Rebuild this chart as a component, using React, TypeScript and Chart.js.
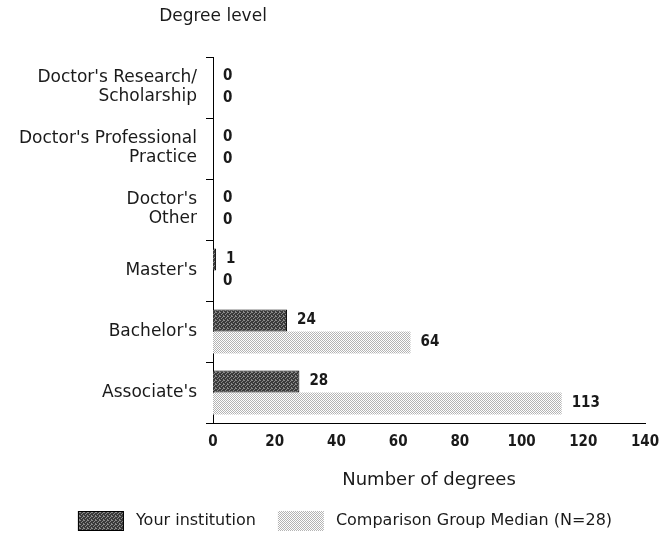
import React, { useEffect, useRef } from "react";
import { Chart, registerables } from "chart.js";

Chart.register(...registerables);

const categories: (string | string[])[] = [
  ["Doctor's Research/", "Scholarship"],
  ["Doctor's Professional", "Practice"],
  ["Doctor's", "Other"],
  "Master's",
  "Bachelor's",
  "Associate's",
];
const yourInstitution = [0, 0, 0, 1, 24, 28];
const comparisonMedian = [0, 0, 0, 0, 64, 113];
const seriesNames = ["Your institution", "Comparison Group Median (N=28)"];
const xMin = 0;
const xMax = 140;
const xStep = 20;
const yAxisTitle = "Degree level";
const xAxisTitle = "Number of degrees";

const FONT = "'DejaVu Sans', Verdana, sans-serif";
const NUMFONT = "'DejaVu Sans Condensed', 'DejaVu Sans', sans-serif";
const TEXT = "#1a1a1a";

function makePattern(kind: "dark" | "light"): CanvasPattern | string {
  const c = document.createElement("canvas");
  c.width = 4;
  c.height = 4;
  const g = c.getContext("2d");
  if (!g) return kind === "dark" ? "#555" : "#d6d6d6";
  if (kind === "dark") {
    g.fillStyle = "#3a3a3a";
    g.fillRect(0, 0, 4, 4);
    g.fillStyle = "#8a8a8a";
    const pts = [[0, 0], [2, 1], [1, 2], [3, 3], [3, 0]];
    pts.forEach(([x, y]) => g.fillRect(x, y, 1, 1));
  } else {
    g.fillStyle = "#ffffff";
    g.fillRect(0, 0, 4, 4);
    g.fillStyle = "#b4b4b4";
    const pts = [[0, 0], [2, 0], [1, 1], [3, 1], [0, 2], [2, 2], [3, 3], [1, 3]];
    pts.forEach(([x, y]) => g.fillRect(x, y, 1, 1));
  }
  const p = g.createPattern(c, "repeat");
  return p || (kind === "dark" ? "#555" : "#d6d6d6");
}

export default function App() {
  const ref = useRef<HTMLCanvasElement | null>(null);

  useEffect(() => {
    document.body.style.margin = "0";
    const canvas = ref.current;
    if (!canvas) return;
    const darkFill = makePattern("dark");
    const lightFill = makePattern("light");

    const valueLabels = {
      id: "valueLabels",
      afterDatasetsDraw(chart: any) {
        const ctx = chart.ctx;
        ctx.save();
        ctx.font = `bold 15px ${NUMFONT}`;
        ctx.fillStyle = TEXT;
        ctx.textAlign = "left";
        ctx.textBaseline = "middle";
        chart.data.datasets.forEach((ds: any, di: number) => {
          const meta = chart.getDatasetMeta(di);
          meta.data.forEach((el: any, i: number) => {
            ctx.fillText(String(ds.data[i]), el.x + 10, el.y);
          });
        });
        ctx.restore();
      },
    };

    const chrome = {
      id: "chrome",
      afterDraw(chart: any) {
        const ctx = chart.ctx;
        const area = chart.chartArea;
        ctx.save();
        ctx.fillStyle = TEXT;
        ctx.textBaseline = "middle";
        ctx.textAlign = "center";
        ctx.font = `17px ${FONT}`;
        ctx.fillText(yAxisTitle, area.left, 17);
        ctx.font = `18px ${FONT}`;
        ctx.fillText(xAxisTitle, (area.left + area.right) / 2, 480);

        // legend
        ctx.font = `16px ${FONT}`;
        const sw = 46;
        const sh = 20;
        const gapText = 12;
        const gapItem = 22;
        const fills = [darkFill, lightFill];
        const widths = seriesNames.map((n) => sw + gapText + ctx.measureText(n).width);
        const total = widths[0] + gapItem + widths[1];
        let x = 345 - total / 2;
        const cy = 521;
        seriesNames.forEach((n, i) => {
          ctx.fillStyle = fills[i] as any;
          ctx.fillRect(x, cy - sh / 2, sw, sh);
          if (i === 0) {
            ctx.strokeStyle = "#000";
            ctx.lineWidth = 1;
            ctx.strokeRect(x + 0.5, cy - sh / 2 + 0.5, sw - 1, sh - 1);
          }
          ctx.fillStyle = TEXT;
          ctx.textAlign = "left";
          ctx.fillText(n, x + sw + gapText, cy);
          x += widths[i] + gapItem;
        });
        ctx.restore();
      },
    };

    const chart = new Chart(canvas, {
      type: "bar",
      data: {
        labels: categories,
        datasets: [
          {
            label: seriesNames[0],
            data: yourInstitution,
            backgroundColor: darkFill as any,
            borderColor: "#000",
            borderWidth: 1,
            categoryPercentage: 0.72,
            barPercentage: 1,
          },
          {
            label: seriesNames[1],
            data: comparisonMedian,
            backgroundColor: lightFill as any,
            borderWidth: 0,
            categoryPercentage: 0.72,
            barPercentage: 1,
          },
        ],
      },
      options: {
        indexAxis: "y",
        responsive: false,
        animation: false,
        devicePixelRatio: 1,
        layout: { padding: { top: 57, left: 0, right: 26, bottom: 0 } },
        plugins: {
          legend: { display: false },
          tooltip: { enabled: false },
          title: { display: false },
        },
        scales: {
          x: {
            type: "linear",
            min: xMin,
            max: xMax,
            ticks: {
              stepSize: xStep,
              color: TEXT,
              font: { family: NUMFONT, size: 15, weight: "bold" },
              padding: 10,
            },
            grid: { display: false, drawTicks: false },
            border: { display: true, color: "#000", width: 1 },
            afterFit: (s: any) => {
              s.height = 113;
            },
          },
          y: {
            type: "category",
            ticks: {
              color: TEXT,
              font: { family: FONT, size: 17, lineHeight: 1.12 },
              padding: 9,
            },
            grid: {
              display: true,
              drawOnChartArea: false,
              drawTicks: true,
              tickLength: 7,
              color: "#000",
              offset: true,
            },
            border: { display: true, color: "#000", width: 1 },
            afterFit: (s: any) => {
              s.width = 213;
            },
          },
        },
      },
      plugins: [valueLabels, chrome],
    });
    return () => chart.destroy();
  }, []);

  return <canvas ref={ref} width={671} height={536} style={{ display: "block" }} />;
}
